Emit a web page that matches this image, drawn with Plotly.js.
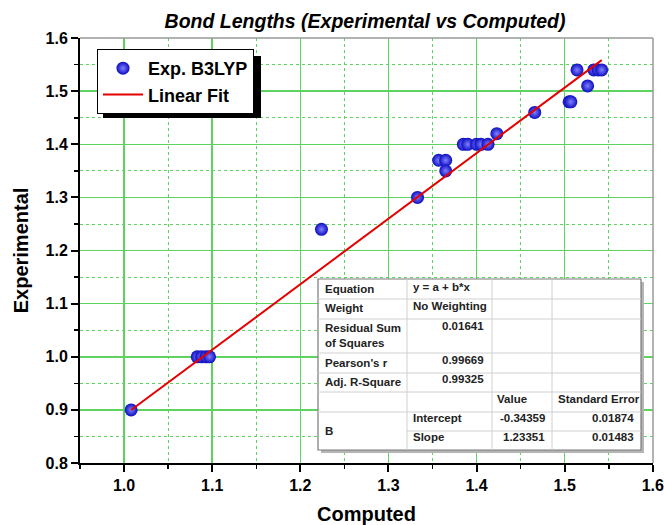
<!DOCTYPE html>
<html>
<head>
<meta charset="utf-8">
<script src="https://cdn.plot.ly/plotly-3.0.1.min.js"></script>
<style>
  html, body { margin: 0; padding: 0; background: #fff; }
  #chart { width: 664px; height: 525px; }
</style>
</head>
<body>
<div id="chart"></div>
<script>
// ---------------- Data ----------------
const computed = [1.008, 1.083, 1.088, 1.093, 1.097, 1.224, 1.333, 1.357, 1.365, 1.365,
                  1.385, 1.390, 1.400, 1.405, 1.413, 1.423, 1.466, 1.505, 1.507, 1.514,
                  1.526, 1.533, 1.538, 1.542];
const experimental = [0.90, 1.00, 1.00, 1.00, 1.00, 1.24, 1.30, 1.37, 1.37, 1.35,
                      1.40, 1.40, 1.40, 1.40, 1.40, 1.42, 1.46, 1.48, 1.48, 1.54,
                      1.51, 1.54, 1.54, 1.54];
const fitIntercept = -0.34359;
const fitSlope = 1.23351;
const seriesNames = ['Exp. B3LYP', 'Linear Fit'];

// Fit statistics table (label, value) rows
const statLabels = ['Equation', 'Weight', 'Residual Sum<br>of Squares', "Pearson's r", 'Adj. R-Square'];
const statValues = ['y = a + b*x', 'No Weighting', '0.01641', '0.99669', '0.99325'];
const paramHeader = ['Value', 'Standard Error'];
const paramGroup = 'B';
const paramNames = ['Intercept', 'Slope'];
const paramValues = ['-0.34359', '1.23351'];
const paramErrors = ['0.01874', '0.01483'];

// ---------------- Geometry helpers ----------------
const W = 664, H = 525;
const M = {l: 80, r: 11, t: 38, b: 62};
const PW = W - M.l - M.r, PH = H - M.t - M.b;
const px = x => (x - M.l) / PW;
const py = y => 1 - (y - M.t) / PH;

const fitX = [Math.min(...computed), Math.max(...computed)];
const fitY = fitX.map(x => fitIntercept + fitSlope * x);

const traces = [
  {
    x: computed, y: experimental, type: 'scatter', mode: 'markers', name: seriesNames[0],
    marker: {size: 13, color: '#0c0cc0', line: {width: 0},
             gradient: {type: 'radial', color: '#8080ff'}}
  },
  {
    x: fitX, y: fitY, type: 'scatter', mode: 'lines', name: seriesNames[1],
    line: {color: '#e60000', width: 2}
  }
];

const shapes = [];
const annotations = [];
const FONT = 'Arial, "Liberation Sans", sans-serif';

// top / right frame
shapes.push({type: 'line', xref: 'paper', yref: 'paper', x0: 0, x1: 1, y0: 1, y1: 1,
             line: {color: '#9a9a9a', width: 1.5}, layer: 'above'});
shapes.push({type: 'line', xref: 'paper', yref: 'paper', x0: 1, x1: 1, y0: 0, y1: 1,
             line: {color: '#9a9a9a', width: 1.5}, layer: 'above'});

// legend shadow
shapes.push({type: 'rect', xref: 'paper', yref: 'paper',
             x0: px(103), x1: px(261), y0: py(118), y1: py(56),
             fillcolor: '#000', line: {width: 0}, layer: 'above'});

// table geometry
const colX = [318, 407, 492, 552, 641];
const rowY = [279, 299, 319, 353, 373, 392, 412, 431, 450];
// shadow
shapes.push({type: 'rect', xref: 'paper', yref: 'paper',
             x0: px(colX[0] + 3), x1: px(colX[4] + 3), y0: py(rowY[8] + 3), y1: py(rowY[0] + 3),
             fillcolor: '#b5b5b5', line: {width: 0}, layer: 'above'});
shapes.push({type: 'rect', xref: 'paper', yref: 'paper',
             x0: px(colX[0]), x1: px(colX[4]), y0: py(rowY[8]), y1: py(rowY[0]),
             fillcolor: '#fff', line: {color: '#7a7a7a', width: 1.2}, layer: 'above'});
// horizontal lines
for (let i = 1; i < rowY.length - 1; i++) {
  const x0 = (i === 7) ? colX[1] : colX[0];
  shapes.push({type: 'line', xref: 'paper', yref: 'paper',
               x0: px(x0), x1: px(colX[4]), y0: py(rowY[i]), y1: py(rowY[i]),
               line: {color: '#d0d0d0', width: 1}, layer: 'above'});
}
// vertical lines
for (let j = 1; j < colX.length - 1; j++) {
  shapes.push({type: 'line', xref: 'paper', yref: 'paper',
               x0: px(colX[j]), x1: px(colX[j]), y0: py(rowY[8]), y1: py(rowY[0]),
               line: {color: '#d0d0d0', width: 1}, layer: 'above'});
}

const tfont = {family: FONT, size: 11.5, color: '#222', weight: 'bold'};
function txt(x, y, text, align) {
  annotations.push({xref: 'paper', yref: 'paper', x: px(x), y: py(y), text: text,
                    showarrow: false, xanchor: align || 'left', yanchor: 'middle',
                    align: align || 'left', font: tfont});
}
// label column
const labelY = [289, 308, 335, 363, 382];
statLabels.forEach((t, i) => txt(colX[0] + 5, labelY[i], t, 'left'));
// value column
const valueY = [287, 306, 326, 360, 379];
statValues.forEach((t, i) => {
  if (i < 2) txt(colX[1] + 4, valueY[i], t, 'left');
  else txt(colX[2] - 6, valueY[i], t, 'right');
});
txt(colX[2] + 3, 399, paramHeader[0], 'left');
txt(colX[3] + 4, 399, paramHeader[1], 'left');
txt(colX[0] + 5, 431, paramGroup, 'left');
const pY = [418, 437];
paramNames.forEach((t, i) => txt(colX[1] + 4, pY[i], t, 'left'));
paramValues.forEach((t, i) => txt(colX[3] - 5, pY[i], t, 'right'));
paramErrors.forEach((t, i) => txt(colX[4] - 5, pY[i], t, 'right'));

const green = '#5fd35f';
const axisCommon = {
  showline: true, linecolor: '#000', linewidth: 2,
  ticks: 'outside', ticklen: 7, tickwidth: 2, tickcolor: '#000',
  showgrid: true, gridcolor: green, gridwidth: 1.5,
  zeroline: false, tickformat: '.1f', ticklabeloverflow: 'allow',
  tickfont: {family: FONT, size: 16, color: '#000', weight: 'bold'},
  minor: {dtick: 0.05, ticks: 'outside', ticklen: 4, tickwidth: 1.5, tickcolor: '#000',
          showgrid: true, gridcolor: green, griddash: 'dot', gridwidth: 1}
};

const layout = {
  width: W, height: H,
  margin: M,
  paper_bgcolor: '#fff', plot_bgcolor: '#fff',
  title: {text: 'Bond Lengths (Experimental vs Computed)', x: px(365), xref: 'paper', xanchor: 'center',
          y: 1 - 21 / H, yanchor: 'middle',
          font: {family: FONT, size: 19.5, color: '#000', weight: 'bold', style: 'italic'}},
  xaxis: Object.assign({}, axisCommon, {
    range: [0.95, 1.6002], dtick: 0.1, tick0: 1.0,
    minor: Object.assign({}, axisCommon.minor, {tick0: 1.0}),
    title: {text: 'Computed', standoff: 20, font: {family: FONT, size: 20, color: '#000', weight: 'bold'}}
  }),
  yaxis: Object.assign({}, axisCommon, {
    range: [0.8, 1.6002], dtick: 0.1, tick0: 0.8,
    minor: Object.assign({}, axisCommon.minor, {tick0: 0.8}),
    title: {text: 'Experimental', standoff: 12, font: {family: FONT, size: 20, color: '#000', weight: 'bold'}}
  }),
  showlegend: true,
  legend: {x: px(97), y: py(49), xanchor: 'left', yanchor: 'top',
           bgcolor: '#fff', bordercolor: '#000', borderwidth: 1,
           font: {family: FONT, size: 18, color: '#000', weight: 'bold'},
           itemwidth: 40, tracegroupgap: 0},
  shapes: shapes,
  annotations: annotations
};

Plotly.newPlot('chart', traces, layout, {displayModeBar: false, staticPlot: true});
</script>
</body>
</html>
